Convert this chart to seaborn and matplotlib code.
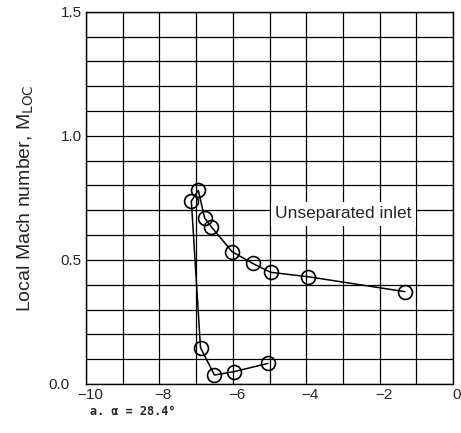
import matplotlib
matplotlib.use("Agg")
import matplotlib.pyplot as plt
import matplotlib.transforms as mtransforms
import seaborn as sns
import numpy as np
import pandas as pd

# data
x_pos = [-5.04, -5.96, -6.50, -6.88, -7.13, -6.94, -6.77, -6.59, -6.02, -5.46, -4.97, -3.94, -1.31]
mach = [0.083, 0.050, 0.036, 0.146, 0.737, 0.780, 0.670, 0.634, 0.533, 0.486, 0.450, 0.432, 0.372]
x_ticks = [-10, -8, -6, -4, -2, 0]
y_ticks = [0.0, 0.5, 1.0, 1.5]
label_text = "Unseparated inlet"
caption = "a. \u03b1 = 28.4\u00b0"

sns.set_style("white")
plt.rcParams['font.family'] = ['Liberation Sans', 'DejaVu Sans']

df = pd.DataFrame({"x": x_pos, "M": mach})

fig = plt.figure(figsize=(4.61, 4.33), dpi=100)
ax = fig.add_axes([0.1866, 0.1132, 0.796, 0.8598])

# grid
ax.set_xticks(np.arange(-10, 0.01, 1), minor=True)
ax.set_yticks(np.arange(0, 1.501, 0.1), minor=True)
ax.grid(which="both", color="black", linewidth=0.9)
ax.set_axisbelow(True)

sns.lineplot(data=df, x="x", y="M", sort=False, estimator=None, ax=ax,
             color="black", linewidth=1.1, marker="o", markersize=10,
             markerfacecolor="none", markeredgecolor="black", markeredgewidth=1.2,
             zorder=3)

ax.text(-2.98, 0.685, label_text, ha="center", va="center", fontsize=12.5,
        bbox=dict(facecolor="white", edgecolor="none", pad=3), zorder=4)

ax.set_xlim(-10, 0)
ax.set_ylim(0, 1.5)
ax.set_xticks(x_ticks)
ax.set_xticklabels([str(t).replace("-", "\u2212") for t in x_ticks])
ax.set_yticks(y_ticks)
ax.set_yticklabels([f"{t:.1f}" for t in y_ticks])
ax.tick_params(which="both", length=0, labelsize=11, pad=3)
ax.set_xlabel("")
ax.set_ylabel("Local Mach number, M$_{\\mathrm{LOC}}$", fontsize=14, labelpad=9)
for s in ax.spines.values():
    s.set_color("black")
    s.set_linewidth(1.0)

# small offsets like the reference: "0.0" sits further left, x labels a bit right
ylabs = ax.get_yticklabels()
ylabs[0].set_transform(ylabs[0].get_transform() +
                       mtransforms.ScaledTranslation(-12/100, 0, fig.dpi_scale_trans))
for lab in ax.get_xticklabels():
    lab.set_transform(lab.get_transform() +
                      mtransforms.ScaledTranslation(4/100, 0, fig.dpi_scale_trans))

fig.text(0.196, 0.050, caption, fontsize=8.5, family="DejaVu Sans Mono",
         fontweight="bold", ha="left", va="center")

fig.savefig("out.png", dpi=100)
